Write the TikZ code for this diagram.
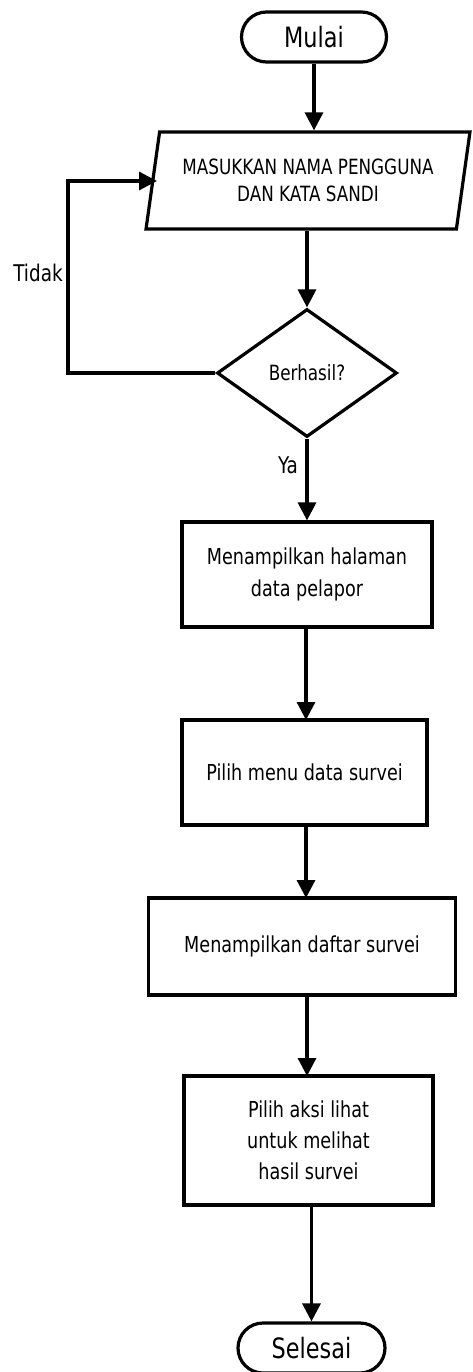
\documentclass[tikz,border=0pt]{standalone}
\usepackage{fontspec}
\setmainfont{DejaVu Sans}[FakeStretch=0.8]
\usetikzlibrary{shapes.geometric,arrows.meta}
\begin{document}
\begin{tikzpicture}[x=1pt,y=-1pt,
  line width=3.2pt,
  every node/.style={inner sep=0pt, font=\fontsize{22}{32}\selectfont},
  term/.style={draw, rectangle, rounded corners=25pt, minimum height=50pt, font=\fontsize{28}{30}\selectfont},
  io/.style={draw, trapezium, trapezium left angle=75, trapezium right angle=105, trapezium stretches=true, minimum width=324pt, minimum height=97pt, align=center, font=\fontsize{21}{27}\selectfont},
  decision/.style={draw, diamond, minimum width=180pt, minimum height=128pt, font=\fontsize{21}{27}\selectfont},
  proc/.style={draw, rectangle, align=center},
  arr/.style={-{Triangle[length=18pt,width=18pt]}},
  lbl/.style={font=\fontsize{23}{26}\selectfont}
]
\useasboundingbox (0,0) rectangle (472,1372);
\node[term, minimum width=145pt] (start) at (314,37) {Mulai};
\node[io] (input) at (308,180.5) {MASUKKAN NAMA PENGGUNA\\DAN KATA SANDI};
\node[decision] (dec) at (307,373) {Berhasil?};
\node[proc, minimum width=250pt, minimum height=105pt] (p1) at (307,574.5) {Menampilkan halaman\\data pelapor};
\node[proc, minimum width=245pt, minimum height=105pt] (p2) at (304.5,772.5) {Pilih menu data survei};
\node[proc, minimum width=307pt, minimum height=97pt] (p3) at (302,946.5) {Menampilkan daftar survei};
\node[proc, minimum width=249pt, minimum height=129pt, font=\fontsize{22}{31}\selectfont] (p4) at (308.5,1140.5) {Pilih aksi lihat\\untuk melihat\\hasil survei};
\node[term, minimum width=147pt] (stop) at (311.5,1348) {Selesai};
\coordinate (c1) at (68,373);
\coordinate (c2) at (68,181);
\node[lbl] (tidak) at (38,273) {Tidak};
\node[lbl] (ya) at (288,465) {Ya};

\draw[arr] (start.south) -- (start.south |- input.north);
\draw[arr] (input.south -| dec.north) -- (dec.north);
\draw[arr] (dec.west) -- (c1) -- (c2) -- (157,181);
\draw[arr] (dec.south) -- (dec.south |- p1.north);
\draw[arr] (306,627) -- (306,720);
\draw[arr] (306,825) -- (306,898);
\draw[arr] (307,995) -- (307,1076);
\draw[arr] (311.5,1205) -- (stop.north);
\end{tikzpicture}
\end{document}
